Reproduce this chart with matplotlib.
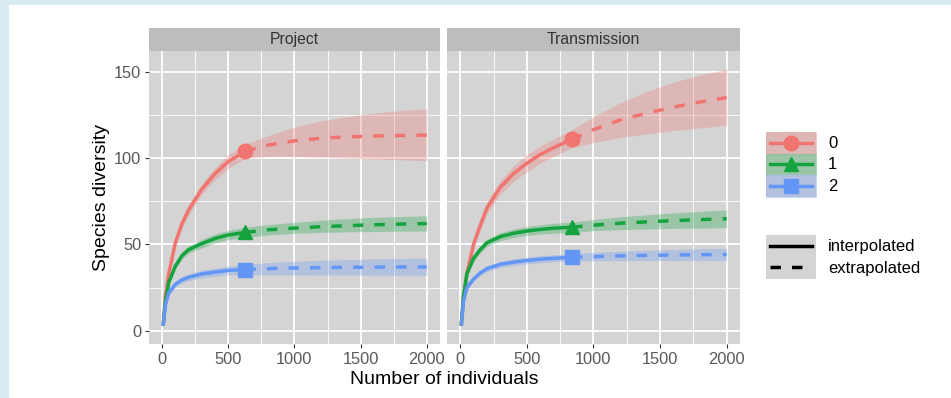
import numpy as np
import matplotlib.pyplot as plt
from matplotlib.patches import Rectangle
from matplotlib.lines import Line2D

plt.rcParams['font.family'] = ['Liberation Sans', 'DejaVu Sans']

panels = ['Project', 'Transmission']
orders = ['0', '1', '2']
colors = ['#F07470', '#14A33E', '#6496F5']

# ---- Project (observed n ~ 630) ----
proj_x_int = [8, 25, 50, 100, 150, 200, 300, 400, 500, 630]
proj_x_ext = [630, 800, 1000, 1200, 1400, 1600, 1800, 2000]

proj_q0_int = [3, 20, 33, 51, 62, 70, 82, 91, 98, 104]
proj_q0_int_lo = [2, 18.5, 31, 48.5, 59.5, 67, 79, 87.5, 94, 100]
proj_q0_int_hi = [4, 21.5, 35, 53.5, 64.5, 73, 85, 94.5, 102, 108]
proj_q0_ext = [104, 107.5, 110, 111.5, 112.3, 112.8, 113.1, 113.3]
proj_q0_ext_lo = [100, 101, 101, 100.5, 100, 99.5, 99, 98.5]
proj_q0_ext_hi = [108, 113, 118, 121.5, 124, 126, 127.5, 128.5]

proj_q1_int = [3, 17, 28, 37.5, 43.5, 47, 50.5, 53.5, 55.5, 57]
proj_q1_int_lo = [2, 15.5, 26.5, 35.5, 41.5, 45, 48, 51, 52.8, 54]
proj_q1_int_hi = [4, 18.5, 29.5, 39.5, 45.5, 49, 53, 56, 58.2, 60]
proj_q1_ext = [57, 58.5, 59.5, 60.3, 60.9, 61.4, 61.8, 62.1]
proj_q1_ext_lo = [54, 55.5, 56.5, 57, 57.3, 57.5, 57.7, 57.8]
proj_q1_ext_hi = [60, 61.5, 62.8, 64, 65, 65.7, 66.2, 66.6]

proj_q2_int = [3, 15, 22, 27, 29.5, 31, 33, 34, 35, 35.5]
proj_q2_int_lo = [2, 13.8, 20.5, 25.3, 27.7, 29, 30.8, 31.7, 32.5, 32.5]
proj_q2_int_hi = [4, 16.2, 23.5, 28.7, 31.3, 33, 35.2, 36.3, 37.5, 38.5]
proj_q2_ext = [35.5, 36, 36.4, 36.6, 36.8, 36.9, 37, 37]
proj_q2_ext_lo = [32.5, 32.5, 32.4, 32.3, 32.3, 32.2, 32.2, 32.2]
proj_q2_ext_hi = [38.5, 39.5, 40.2, 40.8, 41.3, 41.6, 41.9, 42.1]

# ---- Transmission (observed n ~ 840) ----
tran_x_int = [8, 25, 50, 100, 150, 200, 300, 400, 500, 600, 700, 840]
tran_x_ext = [840, 1000, 1200, 1400, 1600, 1800, 2000]

tran_q0_int = [3, 20, 33, 50, 61, 71, 83, 91, 97, 102, 106, 111]
tran_q0_int_lo = [2, 18.5, 31, 47.5, 58, 67.5, 79, 86.5, 92, 97, 101, 106]
tran_q0_int_hi = [4, 21.5, 35, 52.5, 64, 74.5, 87, 95.5, 102, 107, 111, 116.5]
tran_q0_ext = [111, 116.5, 122, 126, 129.5, 132.5, 135]
tran_q0_ext_lo = [106, 109, 112, 114, 116, 117.5, 119]
tran_q0_ext_hi = [116.5, 124, 132, 138.5, 144, 148, 151.5]

tran_q1_int = [3, 20, 33, 42, 47, 51, 54.5, 56.5, 57.8, 58.7, 59.4, 60]
tran_q1_int_lo = [2, 18.5, 31.5, 40, 45, 49, 52.2, 54, 55.2, 56, 56.5, 57]
tran_q1_int_hi = [4, 21.5, 34.5, 44, 49, 53, 56.8, 59, 60.4, 61.4, 62.3, 63]
tran_q1_ext = [60, 61.2, 62.3, 63.1, 63.8, 64.4, 64.9]
tran_q1_ext_lo = [57, 58, 58.6, 59, 59.3, 59.5, 59.7]
tran_q1_ext_hi = [63, 64.4, 66, 67.2, 68.3, 69.2, 70]

tran_q2_int = [3, 17, 25, 30, 33.5, 36, 38.5, 39.8, 40.7, 41.5, 42, 42.6]
tran_q2_int_lo = [2, 15.8, 23.5, 28.5, 32, 34.3, 36.7, 37.9, 38.8, 39.5, 40, 40.5]
tran_q2_int_hi = [4, 18.2, 26.5, 31.5, 35, 37.7, 40.3, 41.7, 42.6, 43.5, 44, 44.7]
tran_q2_ext = [42.6, 43, 43.4, 43.7, 43.9, 44.1, 44.2]
tran_q2_ext_lo = [40.5, 40.6, 40.7, 40.7, 40.7, 40.7, 40.7]
tran_q2_ext_hi = [44.7, 45.5, 46.1, 46.7, 47.1, 47.5, 47.8]

data = {
    'Project': (proj_x_int, proj_x_ext, [
        (proj_q0_int, proj_q0_int_lo, proj_q0_int_hi, proj_q0_ext, proj_q0_ext_lo, proj_q0_ext_hi),
        (proj_q1_int, proj_q1_int_lo, proj_q1_int_hi, proj_q1_ext, proj_q1_ext_lo, proj_q1_ext_hi),
        (proj_q2_int, proj_q2_int_lo, proj_q2_int_hi, proj_q2_ext, proj_q2_ext_lo, proj_q2_ext_hi)]),
    'Transmission': (tran_x_int, tran_x_ext, [
        (tran_q0_int, tran_q0_int_lo, tran_q0_int_hi, tran_q0_ext, tran_q0_ext_lo, tran_q0_ext_hi),
        (tran_q1_int, tran_q1_int_lo, tran_q1_int_hi, tran_q1_ext, tran_q1_ext_lo, tran_q1_ext_hi),
        (tran_q2_int, tran_q2_int_lo, tran_q2_int_hi, tran_q2_ext, tran_q2_ext_lo, tran_q2_ext_hi)]),
}
markers = ['o', '^', 's']

W, H = 951, 398
fig = plt.figure(figsize=(W / 100, H / 100), dpi=100)
fig.patch.set_facecolor('#d7eaf2')
fig.patches.append(Rectangle((9 / W, 0), 1, 1 - 5 / H, transform=fig.transFigure,
                             facecolor='white', edgecolor='none', zorder=-10))

panel_bg = '#d4d4d4'
strip_bg = '#bdbdbd'
tick_col = '#595959'
px = lambda x0, x1, y0, y1: [x0 / W, 1 - y1 / H, (x1 - x0) / W, (y1 - y0) / H]

lefts = [149, 447]
rights = [440, 740]
for i, name in enumerate(panels):
    ax = fig.add_axes(px(lefts[i], rights[i], 51, 344))
    ax.set_facecolor(panel_bg)
    for s in ax.spines.values():
        s.set_visible(False)
    ax.set_xlim(-99, 2100)
    ax.set_ylim(-7.6, 162)
    ax.set_xticks([0, 500, 1000, 1500, 2000])
    ax.set_xticks([250, 750, 1250, 1750], minor=True)
    ax.set_yticks([0, 50, 100, 150])
    ax.set_yticks([25, 75, 125], minor=True)
    ax.grid(True, which='major', color='white', lw=1.3)
    ax.grid(True, which='minor', color='white', lw=0.6)
    ax.set_axisbelow(True)
    ax.tick_params(which='major', length=3, color='#333333', labelcolor=tick_col,
                   labelsize=11.8, width=0.8, pad=2.5)
    ax.tick_params(which='minor', length=0)
    if i == 1:
        ax.tick_params(axis='y', which='major', left=False, labelleft=False)
    else:
        ax.set_ylabel('Species diversity', fontsize=14, color='black', labelpad=3)

    x_int, x_ext, series = data[name]
    for k, (yi, lo_i, hi_i, ye, lo_e, hi_e) in enumerate(series):
        c = colors[k]
        ax.fill_between(x_int, lo_i, hi_i, color=c, alpha=0.3, lw=0)
        ax.fill_between(x_ext, lo_e, hi_e, color=c, alpha=0.3, lw=0)
        ax.plot(x_int, yi, color=c, lw=2.5, solid_capstyle='butt')
        ax.plot(x_ext, ye, color=c, lw=2.5, ls=(0, (3, 3.2)))
        ax.plot(x_int[-1], yi[-1], marker=markers[k], color=c, ms=10.5, mec=c)

    st = fig.add_axes(px(lefts[i], rights[i], 28, 51))
    st.set_facecolor(strip_bg)
    st.set_xticks([])
    st.set_yticks([])
    for s in st.spines.values():
        s.set_visible(False)
    st.text(0.5, 0.5, name, ha='center', va='center', fontsize=11.3, color='#333333',
            transform=st.transAxes)

fig.text((149 + 740) / 2 / W, 1 - 379 / H, 'Number of individuals', ha='center',
         va='center', fontsize=14)

# legend: colour keys
leg = fig.add_axes(px(740, 951, 100, 300))
leg.set_xlim(740, 951)
leg.set_ylim(300, 100)
leg.axis('off')
key_top = [132, 153.5, 175]
for k in range(3):
    y0 = key_top[k]
    leg.add_patch(Rectangle((766, y0), 50, 21.5, facecolor=panel_bg, edgecolor='none'))
    leg.add_patch(Rectangle((766, y0), 50, 21.5, facecolor=colors[k], alpha=0.3,
                            edgecolor=colors[k], lw=0.6))
    leg.add_line(Line2D([770, 812], [y0 + 10.75] * 2, color=colors[k], lw=2.5))
    leg.plot(791, y0 + 10.75, marker=markers[k], color=colors[k], ms=10.5)
    leg.text(828, y0 + 11, orders[k], va='center', ha='left', fontsize=12)

# legend: line types
leg.add_patch(Rectangle((766, 235), 50, 44, facecolor=panel_bg, edgecolor='none'))
leg.add_line(Line2D([770, 812], [246, 246], color='black', lw=2.5))
leg.add_line(Line2D([770, 812], [267, 267], color='black', lw=2.5, ls=(0, (3, 3.2))))
leg.text(828, 246, 'interpolated', va='center', ha='left', fontsize=12)
leg.text(828, 268, 'extrapolated', va='center', ha='left', fontsize=12)

fig.savefig('out.png', dpi=100)
